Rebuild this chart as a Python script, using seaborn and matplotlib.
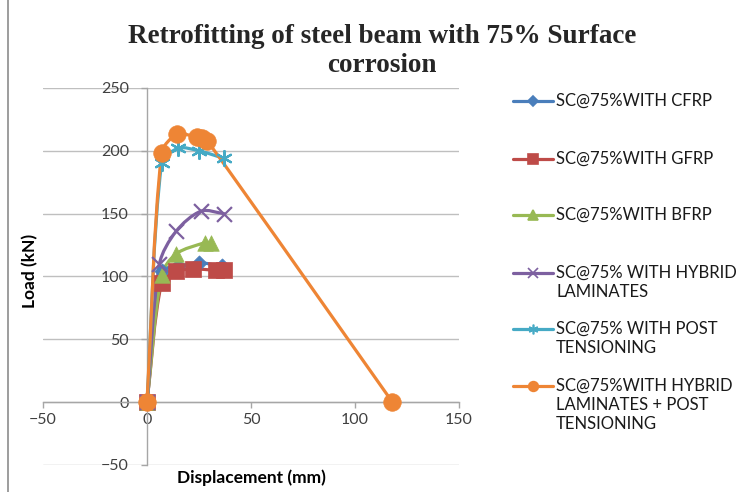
import numpy as np
import pandas as pd
import matplotlib
matplotlib.use("Agg")
import matplotlib.pyplot as plt
from matplotlib.path import Path
from matplotlib.patches import PathPatch
from matplotlib.lines import Line2D
import seaborn as sns

# ---- data ----
labels = [
    "SC@75%WITH CFRP",
    "SC@75%WITH GFRP",
    "SC@75%WITH BFRP",
    "SC@75% WITH HYBRID\nLAMINATES",
    "SC@75% WITH POST\nTENSIONING",
    "SC@75%WITH HYBRID\nLAMINATES + POST\nTENSIONING",
]
cfrp_x = [0, 7, 15, 25, 36]
cfrp_y = [0, 104, 108, 111, 108]
gfrp_x = [0, 7, 14, 22, 33, 37]
gfrp_y = [0, 95, 104, 106, 105, 105]
bfrp_x = [0, 7, 14, 28, 31]
bfrp_y = [0, 101, 118, 127, 127]
hyb_x = [0, 6, 14, 26, 37]
hyb_y = [0, 110, 136, 152, 150]
post_x = [0, 7, 15, 25, 37]
post_y = [0, 190, 202, 200, 194]
hp_x = [0, 7, 14.5, 24, 26.5, 29, 118]
hp_y = [0, 198, 213, 211, 210, 208, 0]

xs = [cfrp_x, gfrp_x, bfrp_x, hyb_x, post_x, hp_x]
ys = [cfrp_y, gfrp_y, bfrp_y, hyb_y, post_y, hp_y]

colors = ["#4A7EBB", "#BE4B48", "#98B954", "#7D60A0", "#46AAC5", "#EE8535"]
markers = ["D", "s", "^", "x", (6, 2, 0), "o"]
msizes = [60, 130, 125, 115, 115, 160]
lsizes = [5, 7, 7, 7, 7, 7]

sns.set_theme(style="white")
plt.rcParams["font.family"] = ["Lato", "DejaVu Sans"]

fig = plt.figure(figsize=(7.42, 4.92), dpi=100)
W, H = 742, 492
ax = fig.add_axes([43 / W, 1 - 465 / H, (459 - 43) / W, (465 - 88) / H])
ax.set_xlim(-50, 150)
ax.set_ylim(-50, 250)

# pixel scale factors used only for the smoothing geometry
SX, SY = 416 / 200.0, 377 / 300.0


def smooth_path(x, y, t=0.3):
    p = np.column_stack([np.asarray(x, float) * SX, np.asarray(y, float) * SY])
    n = len(p)
    tang = []
    for i in range(n):
        a = p[i - 1] if i > 0 else p[i]
        b = p[i + 1] if i < n - 1 else p[i]
        d = b - a
        nrm = np.hypot(*d)
        tang.append(d / nrm if nrm > 0 else d)
    verts = [p[0]]
    codes = [Path.MOVETO]
    for i in range(n - 1):
        L = np.hypot(*(p[i + 1] - p[i]))
        c1 = p[i] + tang[i] * L * t
        c2 = p[i + 1] - tang[i + 1] * L * t
        verts += [c1, c2, p[i + 1]]
        codes += [Path.CURVE4] * 3
    verts = np.array(verts)
    verts[:, 0] /= SX
    verts[:, 1] /= SY
    return Path(verts, codes)


for i in range(6):
    patch = PathPatch(smooth_path(xs[i], ys[i]), facecolor="none",
                      edgecolor=colors[i], lw=2.3, zorder=3 + i * 0.1,
                      capstyle="round", joinstyle="round")
    ax.add_patch(patch)
    df = pd.DataFrame({"x": xs[i], "y": ys[i]})
    mk = markers[i]
    if mk in ("x", (6, 2, 0)):
        sns.scatterplot(data=df, x="x", y="y", marker=mk, s=msizes[i],
                        color=colors[i], linewidth=1.6, ax=ax,
                        zorder=4 + i * 0.1, legend=False)
    else:
        sns.scatterplot(data=df, x="x", y="y", marker=mk, s=msizes[i],
                        color=colors[i], edgecolor=colors[i], linewidth=0.5,
                        ax=ax, zorder=4 + i * 0.1, legend=False)

# axes styling
for s in ["top", "right"]:
    ax.spines[s].set_visible(False)
ax.spines["left"].set_position(("data", 0))
ax.spines["bottom"].set_position(("data", 0))
ax.spines["left"].set_color("#A6A6A6")
ax.spines["bottom"].set_color("#A6A6A6")
ax.spines["left"].set_linewidth(1)
ax.spines["bottom"].set_linewidth(1)
ax.set_xticks([-50, 0, 50, 100, 150])
ax.set_yticks([-50, 0, 50, 100, 150, 200, 250])
ax.tick_params(axis="y", direction="out", length=4, width=1, color="#A6A6A6",
               pad=9, labelsize=11.5, labelcolor="#404040", left=True)
ax.tick_params(axis="x", direction="out", length=4, width=1, color="#A6A6A6",
               pad=4, labelsize=11.5, labelcolor="#404040", bottom=True)
ax.yaxis.grid(True, color="#BFBFBF", lw=1)
ax.xaxis.grid(False)
ax.set_axisbelow(True)
ax.set_facecolor("white")

ax.set_xlabel("Displacement (mm)", fontsize=12.5, fontweight="bold", color="black")
ax.xaxis.set_label_coords(0.5, (465 - 478) / 377)
ax.xaxis.label.set_verticalalignment("center")
ax.set_ylabel("Load (kN)", fontsize=12.5, fontweight="bold", color="black")
ax.yaxis.set_label_coords((30 - 43) / 416, 0.5 - (271 - 276.5) / 377)
ax.yaxis.label.set_horizontalalignment("center")
ax.yaxis.label.set_verticalalignment("center")

fig.text(382 / W, 1 - 51 / H, "Retrofitting of steel beam with 75% Surface\ncorrosion",
         ha="center", va="center", fontsize=19.5, fontweight="bold",
         family="Liberation Serif", linespacing=1.2)

# legend (drawn manually to mimic Excel placement)
leg_y = [101, 159, 215, 273, 329, 386]
for i in range(6):
    yy = 1 - leg_y[i] / H
    fig.add_artist(Line2D([513 / W, 553 / W], [yy, yy], color=colors[i], lw=2.3,
                          transform=fig.transFigure))
    mk = markers[i]
    fig.add_artist(Line2D([533 / W], [yy], marker=mk, color=colors[i],
                          markersize=lsizes[i], markeredgewidth=1.2,
                          transform=fig.transFigure, linestyle="none"))
    fig.text(556 / W, yy + 8 / H, labels[i], ha="left", va="top", fontsize=12,
             color="#1a1a1a", linespacing=1.22)

# chart border
fig.add_artist(Line2D([8 / W, 8 / W], [0, 1], color="#8C8C8C", lw=1.2,
                      transform=fig.transFigure))

fig.savefig("out.png", dpi=100)
